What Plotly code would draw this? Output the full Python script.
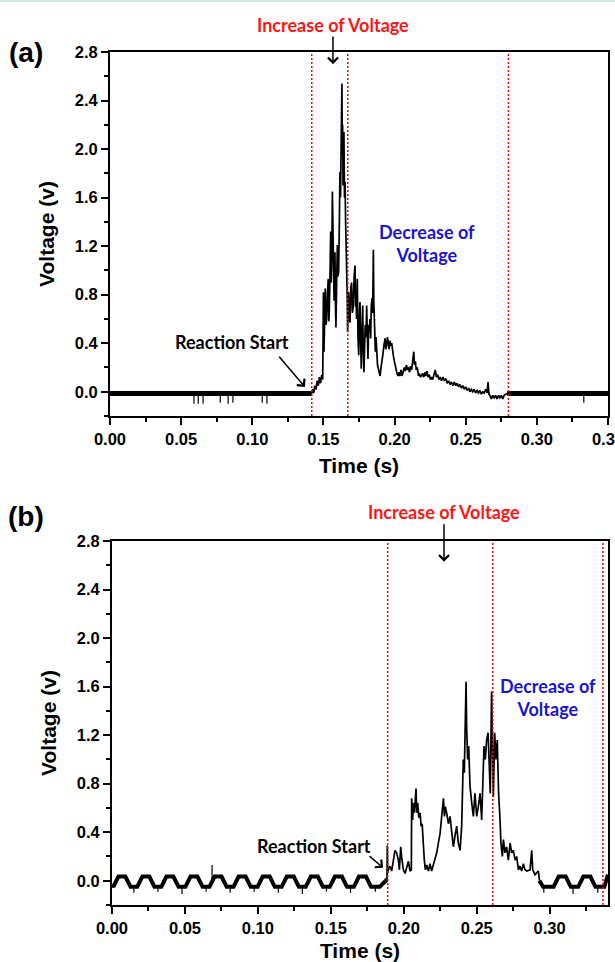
import plotly.graph_objects as go

# ---------------- panel (a) data ----------------
base_a_t = [0.0, 0.1418, None, 0.2790, 0.35]
base_a_v = [-0.015, -0.015, None, -0.015, -0.015]

spike_a_t = [0.0590, 0.0620, 0.0654, 0.0775, 0.0830, 0.0864, 0.1070, 0.1103, 0.3330]
spike_a_top = [-0.02, -0.02, -0.02, -0.02, -0.02, -0.02, -0.02, -0.02, -0.02]
spike_a_bot = [-0.10, -0.10, -0.10, -0.09, -0.10, -0.09, -0.09, -0.10, -0.09]

sig_a_t = [0.1418, 0.1425, 0.1432, 0.1440, 0.1448, 0.1456, 0.1464, 0.1472, 0.1480, 0.1488,
           0.1495, 0.1500, 0.1504, 0.1509, 0.1513, 0.1518, 0.1523, 0.1528, 0.1534, 0.1538,
           0.1541, 0.1546, 0.1551, 0.1555, 0.1559, 0.1563, 0.1567, 0.1570, 0.1575, 0.1578,
           0.1581, 0.1585, 0.1588, 0.1593, 0.1598, 0.1602, 0.1607, 0.1612, 0.1616, 0.1620,
           0.1623, 0.1627, 0.1630, 0.1633, 0.1635, 0.1638, 0.1640, 0.1644, 0.1648, 0.1652,
           0.1656, 0.1659, 0.1663, 0.1667, 0.1670, 0.1674, 0.1677, 0.1682, 0.1687, 0.1692,
           0.1698, 0.1704, 0.1710, 0.1716, 0.1722, 0.1726, 0.1729, 0.1733, 0.1738, 0.1743,
           0.1748, 0.1752, 0.1757, 0.1762, 0.1766, 0.1771, 0.1776, 0.1780, 0.1785, 0.1790,
           0.1794, 0.1799, 0.1804, 0.1808, 0.1813, 0.1818, 0.1822, 0.1827, 0.1832, 0.1836,
           0.1841, 0.1846, 0.1851, 0.1854, 0.1858, 0.1862, 0.1865, 0.1870, 0.1874, 0.1880,
           0.1886, 0.1892, 0.1898, 0.1905, 0.1911, 0.1917, 0.1925, 0.1933, 0.1938, 0.1944,
           0.1950, 0.1956, 0.1962, 0.1968, 0.1974, 0.1980, 0.1986, 0.1991, 0.1997, 0.2003,
           0.2010, 0.2017, 0.2024, 0.2031, 0.2038, 0.2045, 0.2053, 0.2060, 0.2068, 0.2075,
           0.2083, 0.2090, 0.2098, 0.2105, 0.2112, 0.2120, 0.2128, 0.2135, 0.2140, 0.2146,
           0.2152, 0.2160, 0.2168, 0.2175, 0.2183, 0.2190, 0.2198, 0.2205, 0.2213, 0.2220,
           0.2228, 0.2236, 0.2244, 0.2252, 0.2260, 0.2268, 0.2276, 0.2286, 0.2294, 0.2303,
           0.2312, 0.2320, 0.2330, 0.2340, 0.2350, 0.2360, 0.2370, 0.2380, 0.2390, 0.2400,
           0.2410, 0.2420, 0.2430, 0.2440, 0.2450, 0.2460, 0.2470, 0.2480, 0.2490, 0.2500,
           0.2510, 0.2520, 0.2530, 0.2540, 0.2550, 0.2560, 0.2570, 0.2580, 0.2590, 0.2600,
           0.2610, 0.2620, 0.2630, 0.2640, 0.2650, 0.2657, 0.2663, 0.2670, 0.2680, 0.2690,
           0.2700, 0.2710, 0.2720, 0.2730, 0.2740, 0.2750, 0.2760, 0.2770, 0.2790]
sig_a_v = [-0.015, 0.02, -0.01, 0.05, 0.02, 0.09, 0.05, 0.12, 0.07, 0.14,
           0.10, 0.82, 0.33, 0.70, 0.85, 0.55, 0.60, 0.80, 0.93, 0.58,
           0.66, 0.95, 1.32, 0.90, 1.10, 1.65, 1.20, 1.00, 0.75, 0.95,
           1.15, 0.70, 0.53, 0.90, 1.21, 0.95, 0.99, 1.40, 1.81, 1.60,
           2.09, 2.00, 2.54, 1.95, 2.20, 1.70, 1.81, 2.14, 1.60, 1.73,
           1.40, 1.26, 1.12, 0.80, 0.49, 0.70, 0.82, 0.60, 0.57, 0.85,
           0.90, 0.65, 0.71, 0.95, 1.04, 0.70, 0.79, 0.60, 0.93, 0.45,
           0.30, 0.60, 0.74, 0.40, 0.19, 0.50, 0.71, 0.35, 0.16, 0.40,
           0.55, 0.45, 0.71, 0.50, 0.27, 0.55, 0.49, 0.60, 0.44, 0.70,
           0.77, 0.65, 1.17, 0.75, 0.52, 0.40, 0.33, 0.45, 0.30, 0.22,
           0.19, 0.15, 0.13, 0.20, 0.28, 0.30, 0.38, 0.44, 0.35, 0.38,
           0.45, 0.40, 0.35, 0.42, 0.38, 0.40, 0.32, 0.30, 0.26, 0.22,
           0.18, 0.15, 0.13, 0.16, 0.13, 0.18, 0.13, 0.17, 0.20, 0.17,
           0.22, 0.18, 0.20, 0.16, 0.21, 0.18, 0.26, 0.33, 0.22, 0.25,
           0.18, 0.20, 0.13, 0.15, 0.12, 0.13, 0.15, 0.12, 0.16, 0.13,
           0.17, 0.12, 0.14, 0.10, 0.12, 0.10, 0.15, 0.18, 0.12, 0.14,
           0.10, 0.12, 0.09, 0.12, 0.09, 0.11, 0.07, 0.09, 0.06, 0.08,
           0.05, 0.08, 0.05, 0.07, 0.04, 0.06, 0.03, 0.05, 0.02, 0.04,
           0.01, 0.03, 0.00, 0.02, 0.00, 0.02, -0.01, 0.01, -0.01, 0.01,
           -0.02, 0.00, -0.01, 0.02, -0.01, 0.08, -0.02, -0.03, -0.06, -0.03,
           -0.05, -0.03, -0.06, -0.03, -0.05, -0.03, -0.06, -0.03, -0.015]

marks_a = [0.1418, 0.1671, 0.2800]

# ---------------- panel (b) data ----------------
base_b_t = [0.0000, 0.0009, 0.0044, 0.0092, 0.0127, 0.0173, 0.0208, 0.0256, 0.0291,
            0.0338, 0.0373, 0.0421, 0.0456, 0.0503, 0.0538, 0.0586, 0.0621,
            0.0668, 0.0703, 0.0751, 0.0786, 0.0833, 0.0868, 0.0916, 0.0951,
            0.0998, 0.1033, 0.1081, 0.1116, 0.1163, 0.1198, 0.1246, 0.1281,
            0.1328, 0.1363, 0.1411, 0.1446, 0.1493, 0.1528, 0.1576, 0.1611,
            0.1658, 0.1693, 0.1741, 0.1776, 0.1835, 0.1885, None,
            0.2930, 0.2955, 0.3027, 0.3062, 0.3110, 0.3145, 0.3196, 0.3231,
            0.3279, 0.3314, 0.3375, 0.3400]
base_b_v = [-0.03, -0.05, 0.035, 0.035, -0.05, -0.05, 0.035, 0.035, -0.05,
            -0.05, 0.035, 0.035, -0.05, -0.05, 0.035, 0.035, -0.05,
            -0.05, 0.035, 0.035, -0.05, -0.05, 0.035, 0.035, -0.05,
            -0.05, 0.035, 0.035, -0.05, -0.05, 0.035, 0.035, -0.05,
            -0.05, 0.035, 0.035, -0.05, -0.05, 0.035, 0.035, -0.05,
            -0.05, 0.035, 0.035, -0.05, -0.05, 0.01, None,
            0.00, -0.05, -0.05, 0.035, 0.035, -0.05, -0.05, 0.035,
            0.035, -0.05, -0.05, 0.05]

spike_b_t = [0.0150, 0.0315, 0.0480, 0.0645, 0.0686, 0.0810, 0.0975, 0.1140, 0.1305,
             0.1470, 0.1635, 0.1805, 0.2960, 0.3160, 0.3330]
spike_b_top = [-0.04, -0.04, -0.04, -0.04, 0.00, -0.04, -0.04, -0.04, -0.04,
               -0.04, -0.04, -0.04, -0.04, -0.04, -0.04]
spike_b_bot = [-0.10, -0.09, -0.11, -0.09, 0.13, -0.10, -0.09, -0.10, -0.11,
               -0.09, -0.10, -0.09, -0.10, -0.11, -0.10]

sig_b_t = [0.1885, 0.1887, 0.1890, 0.1894, 0.1906, 0.1917, 0.1929, 0.1940, 0.1951, 0.1963,
           0.1970, 0.1979, 0.1986, 0.1997, 0.2009, 0.2020, 0.2032, 0.2043, 0.2052, 0.2054,
           0.2061, 0.2066, 0.2073, 0.2084, 0.2089, 0.2096, 0.2103, 0.2112, 0.2119, 0.2126,
           0.2134, 0.2141, 0.2148, 0.2157, 0.2169, 0.2180, 0.2191, 0.2203, 0.2214, 0.2226,
           0.2237, 0.2249, 0.2260, 0.2272, 0.2279, 0.2285, 0.2294, 0.2306, 0.2317, 0.2329,
           0.2340, 0.2351, 0.2363, 0.2374, 0.2386, 0.2397, 0.2408, 0.2415, 0.2422, 0.2427,
           0.2431, 0.2438, 0.2445, 0.2454, 0.2466, 0.2477, 0.2488, 0.2500, 0.2511, 0.2523,
           0.2534, 0.2541, 0.2550, 0.2559, 0.2568, 0.2578, 0.2587, 0.2593, 0.2602, 0.2609,
           0.2614, 0.2623, 0.2632, 0.2641, 0.2650, 0.2660, 0.2666, 0.2676, 0.2683, 0.2694,
           0.2705, 0.2717, 0.2729, 0.2740, 0.2751, 0.2763, 0.2774, 0.2786, 0.2797, 0.2808,
           0.2820, 0.2831, 0.2843, 0.2866, 0.2877, 0.2884, 0.2900, 0.2923, 0.2930]
sig_b_v = [0.01, 0.29, 0.06, 0.09, 0.12, 0.08, 0.17, 0.25, 0.23, 0.17,
           0.09, 0.28, 0.19, 0.09, 0.06, 0.10, 0.16, 0.08, 0.09, 0.68,
           0.50, 0.64, 0.56, 0.76, 0.56, 0.64, 0.52, 0.56, 0.45, 0.47,
           0.28, 0.17, 0.09, 0.13, 0.08, 0.14, 0.08, 0.13, 0.19, 0.23,
           0.31, 0.39, 0.53, 0.68, 0.53, 0.61, 0.56, 0.47, 0.53, 0.37,
           0.28, 0.37, 0.45, 0.31, 0.25, 0.45, 1.00, 0.89, 1.41, 1.64,
           1.27, 1.00, 1.11, 0.78, 0.64, 0.53, 0.72, 0.53, 0.61, 0.72,
           0.50, 0.86, 1.11, 1.00, 1.16, 1.22, 0.86, 0.72, 1.56, 0.89,
           0.69, 1.22, 1.00, 1.16, 0.72, 0.50, 0.31, 0.20, 0.34, 0.23,
           0.28, 0.17, 0.31, 0.23, 0.25, 0.17, 0.20, 0.09, 0.12, 0.08,
           0.14, 0.09, 0.08, 0.09, 0.25, 0.09, 0.05, 0.08, 0.00]

marks_b = [0.1890, 0.2610, 0.3365]

# ---------------- axis tick settings ----------------
x_dtick = 0.05
x_minor = 0.025
y_dtick = 0.4
y_minor = 0.2
y_range = [-0.2, 2.8]
x_range_a = [0.0, 0.35]
x_range_b = [0.0, 0.34]


def spikes(ts, tops, bots):
    xs, ys = [], []
    for t, a, b in zip(ts, tops, bots):
        xs += [t, t, None]
        ys += [a, b, None]
    return xs, ys


fig = go.Figure()
# panel a
fig.add_trace(go.Scatter(x=base_a_t, y=base_a_v, mode="lines", line=dict(color="black", width=5),
                         xaxis="x", yaxis="y", hoverinfo="skip"))
sx, sy = spikes(spike_a_t, spike_a_top, spike_a_bot)
fig.add_trace(go.Scatter(x=sx, y=sy, mode="lines", line=dict(color="black", width=1.2),
                         xaxis="x", yaxis="y", hoverinfo="skip"))
fig.add_trace(go.Scatter(x=sig_a_t, y=sig_a_v, mode="lines", line=dict(color="black", width=1.7),
                         xaxis="x", yaxis="y"))
# panel b
fig.add_trace(go.Scatter(x=base_b_t, y=base_b_v, mode="lines", line=dict(color="black", width=4),
                         xaxis="x2", yaxis="y2", hoverinfo="skip"))
sx, sy = spikes(spike_b_t, spike_b_top, spike_b_bot)
fig.add_trace(go.Scatter(x=sx, y=sy, mode="lines", line=dict(color="black", width=1.2),
                         xaxis="x2", yaxis="y2", hoverinfo="skip"))
fig.add_trace(go.Scatter(x=sig_b_t, y=sig_b_v, mode="lines", line=dict(color="black", width=1.7),
                         xaxis="x2", yaxis="y2"))

tickfont = dict(family="Liberation Sans", size=16.5, color="black", weight="bold")
titlefont = dict(family="Liberation Sans", size=21, color="black", weight="bold")
common = dict(showline=True, linewidth=2, linecolor="black", mirror=True, ticks="outside",
              ticklen=7, tickwidth=2, tickcolor="black", showgrid=False, zeroline=False,
              tickfont=tickfont, automargin=False)


def xaxis(rng, dom, anchor):
    return dict(common, range=rng, domain=dom, anchor=anchor, tickmode="linear", tick0=0,
                dtick=x_dtick, tickformat=".2f", ticklabeloverflow="allow",
                minor=dict(dtick=x_minor, ticks="outside", ticklen=4, tickwidth=1.5,
                           tickcolor="black"),
                title=dict(text="Time (s)", font=titlefont, standoff=12))


def yaxis(dom, anchor):
    return dict(common, range=y_range, domain=dom, anchor=anchor, tickmode="linear", tick0=0,
                dtick=y_dtick, tickformat=".1f",
                minor=dict(dtick=y_minor, ticks="outside", ticklen=4, tickwidth=1.5,
                           tickcolor="black"),
                title=dict(text="Voltage (v)", font=titlefont, standoff=14))


W, H = 615, 962
fig.update_layout(
    template="none",
    width=W, height=H, margin=dict(l=0, r=0, t=0, b=0, autoexpand=False),
    paper_bgcolor="white", plot_bgcolor="white", showlegend=False,
    xaxis=xaxis(x_range_a, [110 / W, 608 / W], "y"),
    yaxis=yaxis([1 - 416 / H, 1 - 52 / H], "x"),
    xaxis2=xaxis(x_range_b, [112 / W, 608 / W], "y2"),
    yaxis2=yaxis([1 - 905 / H, 1 - 541 / H], "x2"),
)

shapes = []
for t in marks_a:
    shapes.append(dict(type="line", xref="x", yref="y domain", x0=t, x1=t, y0=0, y1=1,
                       line=dict(color="red", width=1.5, dash="2px,2px")))
for t in marks_b:
    shapes.append(dict(type="line", xref="x2", yref="y2 domain", x0=t, x1=t, y0=0, y1=1,
                       line=dict(color="red", width=1.5, dash="2px,2px")))
shapes.append(dict(type="line", xref="paper", yref="paper", x0=0, x1=1, y0=1 - 1 / H, y1=1 - 1 / H,
                   line=dict(color="#cfe8da", width=2)))
fig.update_layout(shapes=shapes)

lab = dict(family="Lato", size=18, weight="bold")
red = "#ff1414"
blue = "#1a14d2"
ann = []


def arrow(xr, yr, tip, tail):
    return dict(xref=xr, yref=yr, axref=xr, ayref=yr, x=tip[0], y=tip[1], ax=tail[0], ay=tail[1],
                text="", showarrow=True, arrowhead=4, arrowsize=1.3, arrowwidth=1.5,
                arrowcolor="black")


def text(xr, yr, pos, s, color):
    return dict(xref=xr, yref=yr, x=pos[0], y=pos[1], text=s, showarrow=False,
                xanchor="center", yanchor="middle",
                font=dict(lab, color=color), align="center")


# panel a annotations
ann.append(text("x", "paper", (0.1567, 1 - 25 / H), "Increase of Voltage", red))
ann.append(arrow("x", "y", (0.1567, 2.70), (0.1567, 2.94)))
ann.append(text("x", "y", (0.2228, 1.22), "Decrease of<br>Voltage", blue))
ann.append(text("x", "y", (0.0857, 0.41), "Reaction Start", "black"))
ann.append(arrow("x", "y", (0.1370, 0.04), (0.1180, 0.30)))
# panel b annotations
ann.append(text("x2", "paper", (0.2276, 1 - 512 / H), "Increase of Voltage", red))
ann.append(arrow("x2", "y2", (0.2276, 2.63), (0.2276, 2.95)))
ann.append(text("x2", "y2", (0.2989, 1.51), "Decrease of<br>Voltage", blue))
ann.append(text("x2", "y2", (0.1385, 0.29), "Reaction Start", "black"))
ann.append(arrow("x2", "y2", (0.1858, 0.107), (0.1755, 0.214)))
# panel letters
ann.append(dict(xref="paper", yref="paper", x=26 / W, y=1 - 53 / H, text="(a)", showarrow=False,
                xanchor="center", yanchor="middle",
                font=dict(family="Liberation Sans", size=28, color="black", weight="bold")))
ann.append(dict(xref="paper", yref="paper", x=26 / W, y=1 - 516 / H, text="(b)", showarrow=False,
                xanchor="center", yanchor="middle",
                font=dict(family="Liberation Sans", size=28, color="black", weight="bold")))
fig.update_layout(annotations=ann)

fig.write_html("out.html")
